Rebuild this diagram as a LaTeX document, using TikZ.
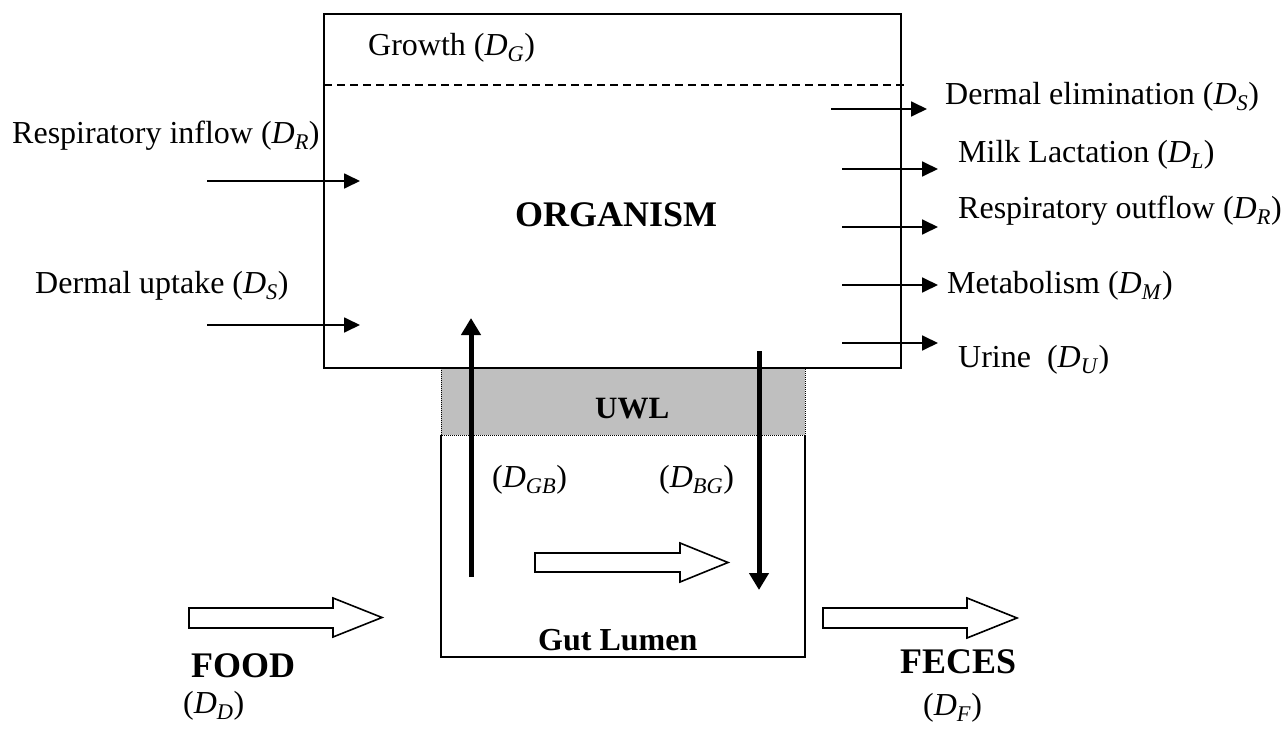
\documentclass[tikz,border=0pt]{standalone}
\usepackage{fontspec}
\setmainfont{Liberation Serif}
\usetikzlibrary{arrows.meta}

\newcommand{\dflux}[1]{(\textit{D}\textsubscript{\textit{#1}})}

\begin{document}
\begin{tikzpicture}[x=1pt, y=-1pt,
  every node/.style={font=\fontsize{32}{38}\selectfont, inner sep=0pt, anchor=base west},
  bold/.style={font=\fontsize{36}{42}\selectfont\bfseries},
  flow/.style={line width=1.8pt, -{Triangle[length=16pt, width=15pt]}},
  bigflow/.style={line width=5pt, -{Triangle[length=17pt, width=19pt]}},
  hollow/.style={line width=1.6pt, fill=white, line join=miter}]

  \useasboundingbox (0,0) rectangle (1286,744);

  % UWL layer (grey) and gut lumen box
  \fill[black!25] (441,368) rectangle (805,435);
  \draw[densely dotted, line width=1pt] (441,368) -- (441,435) -- (805,435) -- (805,368);
  \draw[line width=1.8pt] (441,435) -- (441,657) -- (805,657) -- (805,435);

  % Organism box with growth compartment
  \draw[line width=1.8pt] (324,14) rectangle (901,368);
  \draw[dashed, line width=1.4pt, dash pattern=on 8pt off 5pt] (324,85) -- (905,85);

  % Texts
  \node (growth)   at (368,55)  {Growth \dflux{G}};
  \node[bold] (organism) at (515,226) {ORGANISM};
  \node (elim)     at (945,104) {Dermal elimination \dflux{S}};
  \node (milk)     at (958,162) {Milk Lactation \dflux{L}};
  \node (respout)  at (958,218) {Respiratory outflow \dflux{R}};
  \node (metab)    at (947,293) {Metabolism \dflux{M}};
  \node (urine)    at (958,367) {Urine\ \ \dflux{U}};
  \node (respin)   at (12,143)  {Respiratory inflow \dflux{R}};
  \node (uptake)   at (35,293)  {Dermal uptake \dflux{S}};
  \node[font=\fontsize{31}{36}\selectfont\bfseries] (uwl) at (595,418) {UWL};
  \node (gb)       at (492,487) {\dflux{GB}};
  \node (bg)       at (659,487) {\dflux{BG}};
  \node[font=\fontsize{32}{38}\selectfont\bfseries] (lumen) at (538,650) {Gut Lumen};
  \node[bold] (food)  at (191,677) {FOOD};
  \node (dd)       at (183,713) {\dflux{D}};
  \node[bold] (feces) at (900,673) {FECES};
  \node (df)       at (923,715) {\dflux{F}};

  % Outflows (right)
  \draw[flow] (831,109) -- (927,109);
  \draw[flow] (842,169) -- (938,169);
  \draw[flow] (842,227) -- (938,227);
  \draw[flow] (842,285) -- (938,285);
  \draw[flow] (842,343) -- (938,343);

  % Inflows (left)
  \draw[flow] (207,181) -- (360,181);
  \draw[flow] (207,325) -- (360,325);

  % Gut <-> blood exchange
  \draw[bigflow] (471,577) -- (471,318);
  \draw[bigflow] (759,351) -- (759,590);

  % Hollow arrows: food, gut passage, feces
  \draw[hollow] (189,608) -- (333,608) -- (333,598) -- (382,617.5) -- (333,637) -- (333,628) -- (189,628) -- cycle;
  \draw[hollow] (535,553) -- (680,553) -- (680,543) -- (728,562.5) -- (680,582) -- (680,572) -- (535,572) -- cycle;
  \draw[hollow] (823,608) -- (967,608) -- (967,598) -- (1017,618) -- (967,638) -- (967,628) -- (823,628) -- cycle;

\end{tikzpicture}
\end{document}
